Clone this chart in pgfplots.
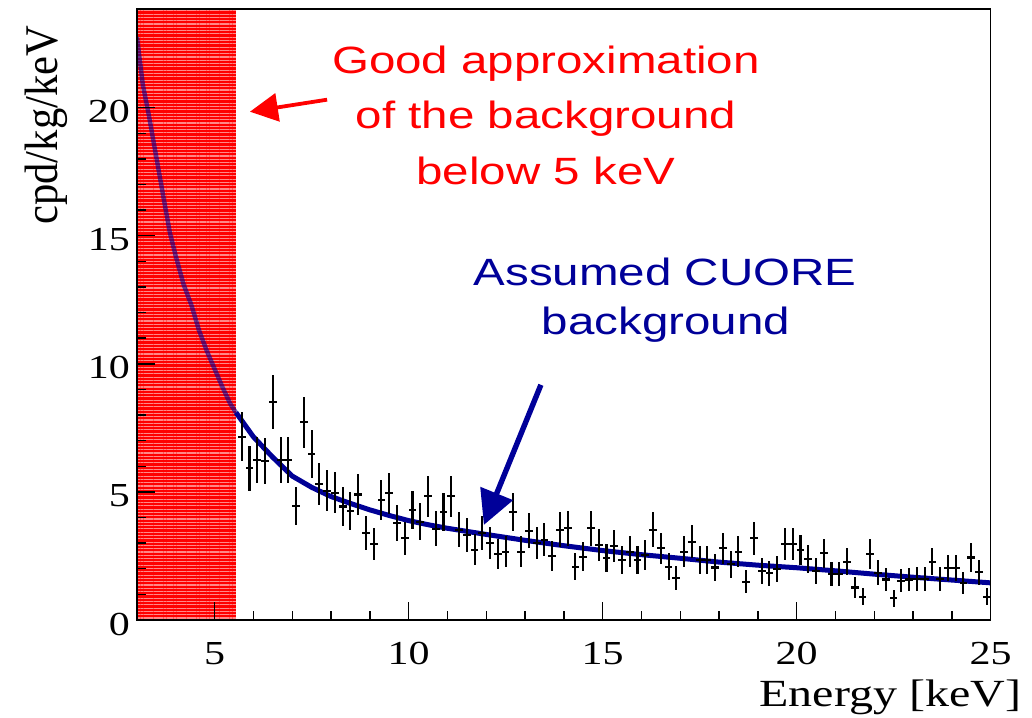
\documentclass[border=0pt]{standalone}
\usepackage{pgfplots}
\pgfplotsset{compat=1.18}
\usepackage{pgfplotstable}
\usepackage{fontspec}
\usetikzlibrary{arrows.meta,patterns.meta}
\setmainfont{Liberation Serif}[FakeStretch=1.25]
\newfontfamily\annfont{Liberation Sans}[FakeStretch=1.25]

\definecolor{fitblue}{RGB}{0,0,150}
\definecolor{annblue}{RGB}{0,0,153}
\definecolor{shadered}{RGB}{255,0,0}
\definecolor{stripered}{RGB}{255,135,135}

% measured spectrum: bin centre, rate, statistical error
\pgfplotstableread{
x     y     ey
5.7   7.15  0.96
5.9   5.93  0.88
6.1   6.25  0.90
6.3   6.22  0.90
6.5   8.50  1.05
6.7   6.25  0.90
6.9   6.25  0.90
7.1   4.45  0.76
7.3   7.72  1.00
7.5   6.48  0.92
7.7   5.30  0.83
7.9   5.05  0.81
8.1   4.97  0.80
8.3   4.43  0.76
8.5   4.26  0.74
8.7   4.90  0.80
8.9   3.41  0.66
9.1   2.97  0.62
9.3   4.69  0.78
9.5   4.94  0.80
9.7   3.78  0.70
9.9   3.19  0.64
10.1  4.30  0.75
10.3  3.84  0.71
10.5  4.83  0.79
10.7  3.56  0.68
10.9  4.23  0.74
11.1  4.83  0.79
11.3  3.52  0.68
11.5  3.32  0.66
11.7  2.75  0.60
11.9  3.40  0.66
12.1  3.01  0.62
12.3  2.58  0.58
12.5  2.67  0.59
12.7  4.22  0.74
12.9  2.67  0.59
13.1  3.49  0.67
13.3  3.00  0.62
13.5  3.13  0.64
13.7  2.50  0.57
13.9  3.52  0.68
14.1  3.58  0.68
14.3  2.08  0.52
14.5  2.47  0.57
14.7  3.58  0.68
14.9  2.93  0.62
15.1  2.42  0.56
15.3  2.89  0.61
15.5  2.34  0.55
15.7  2.67  0.59
15.9  2.34  0.55
16.1  2.54  0.57
16.3  3.52  0.68
16.5  2.80  0.60
16.7  2.08  0.52
16.9  1.63  0.46
17.1  2.67  0.59
17.3  3.06  0.63
17.5  2.34  0.55
17.7  2.34  0.55
17.9  2.05  0.52
18.1  2.80  0.60
18.3  2.18  0.53
18.5  2.67  0.59
18.7  1.50  0.44
18.9  3.19  0.64
19.1  1.92  0.50
19.3  1.82  0.49
19.5  1.98  0.51
19.7  2.96  0.62
19.9  2.96  0.62
20.1  2.73  0.59
20.3  2.38  0.56
20.5  1.92  0.50
20.7  2.60  0.58
20.9  1.79  0.48
21.1  1.79  0.48
21.3  2.28  0.54
21.5  1.27  0.41
21.7  0.91  0.34
21.9  2.57  0.58
22.1  1.85  0.49
22.3  1.58  0.45
22.5  0.85  0.33
22.7  1.53  0.45
22.9  1.58  0.45
23.1  1.60  0.46
23.3  1.60  0.46
23.5  2.28  0.54
23.7  1.60  0.46
23.9  2.02  0.51
24.1  2.02  0.51
24.3  1.43  0.43
24.5  2.44  0.56
24.7  1.87  0.49
24.9  0.91  0.34
}\spectrum

% background model, low-energy part (under the shaded band)
\pgfplotstableread{
x     y
3.0   22.75
3.15  20.9
3.3   19.75
3.5   18.05
3.7   16.35
3.85  15.1
4.0   14.2
4.2   13.1
4.4   12.3
4.6   11.3
4.8   10.5
5.0   9.8
5.2   9.1
5.4   8.45
5.55  8.1
}\modellow

% background model above the shaded band
\pgfplotstableread{
x     y
5.55  8.1
6.0   7.15
6.5   6.35
7.0   5.62
7.5   5.18
8.0   4.82
8.5   4.55
9.0   4.30
9.5   4.08
10.0  3.88
10.5  3.72
11    3.58
12    3.34
13    3.11
14    2.90
15    2.71
16    2.55
17    2.41
18    2.26
19    2.14
20    2.04
21    1.92
22    1.79
23    1.67
24    1.56
25    1.45
}\modelhigh

\begin{document}
\begin{tikzpicture}
\begin{axis}[
  scale only axis,
  width=426.8pt, height=305.5pt,
  xmin=3, xmax=25, ymin=0, ymax=23.85,
  axis on top,
  axis line style={line width=0.75pt, black},
  xtick={5,10,15,20,25}, ytick={0,5,10,15,20},
  minor x tick num=4, minor y tick num=4,
  tick pos=left, tick align=inside,
  major tick length=9pt, minor tick length=4.3pt,
  every tick/.style={black, line width=0.7pt},
  /pgf/number format/assume math mode=true,
  ticklabel style={font=\fontsize{16.8}{18}\selectfont},
  xticklabel style={yshift=-7.5pt},
  yticklabel style={xshift=0pt, yshift=-2pt},
  xlabel={Energy [keV]},
  xlabel style={font=\fontsize{19.2}{20}\selectfont,
    at={(axis description cs:1.044,-0.126)}, anchor=east},
  ylabel={\scalebox{1}[1.1]{cpd/kg/keV}},
  ylabel style={font=\fontsize{21.3}{22}\selectfont\addfontfeature{FakeStretch=1},
    at={(axis description cs:-0.106,0.984)}, anchor=east, rotate=0},
  clip=true,
]
% shaded low-energy band
\addplot[draw=none, fill=shadered, forget plot] coordinates {(3,0) (5.55,0) (5.55,23.85) (3,23.85)} -- cycle;
\addplot[draw=none, pattern={Lines[angle=0, distance=1.65pt, line width=0.55pt]},
  pattern color=stripered, forget plot] coordinates {(3,0) (5.55,0) (5.55,23.85) (3,23.85)} -- cycle;

% background model
\addplot[fitblue, line width=2.2pt, opacity=0.6, no markers] table[x=x,y=y] {\modellow};
\addplot[fitblue, line width=2.5pt, no markers] table[x=x,y=y] {\modelhigh};

% data with error bars
\addplot[draw=none, mark=none,
  error bars/.cd, x dir=both, x fixed=0.1, y dir=both, y explicit,
  error mark=none, error bar style={draw=black, solid, line width=1.05pt}]
  table[x=x, y=y, y error=ey] {\spectrum};

\coordinate (ll) at (rel axis cs:0,0);
\coordinate (ur) at (rel axis cs:1,1);

% annotations
\node[text=shadered, font=\annfont\fontsize{19}{20}\selectfont] at (axis cs:13.54,21.7) {Good approximation};
\node[text=shadered, font=\annfont\fontsize{19}{20}\selectfont] at (axis cs:13.54,19.57) {of the background};
\node[text=shadered, font=\annfont\fontsize{19}{20}\selectfont] at (axis cs:13.54,17.52) {below 5 keV};
\draw[shadered, line width=1.9pt, -{Triangle[length=14pt, width=14pt]}] (axis cs:7.90,20.31) -- (axis cs:5.91,19.84);

\node[text=annblue, font=\annfont\fontsize{19}{20}\selectfont] at (axis cs:16.61,13.59) {Assumed CUORE};
\node[text=annblue, font=\annfont\fontsize{19}{20}\selectfont] at (axis cs:16.63,11.52) {background};
\draw[annblue, line width=2.7pt, -{Triangle[length=17pt, width=17pt]}] (axis cs:13.41,9.18) -- (axis cs:11.94,3.71);
\end{axis}
\pgfresetboundingbox
\path ([shift={(-68.5pt,-48.5pt)}]ll) rectangle ([shift={(20.7pt,4.5pt)}]ur);
\end{tikzpicture}
\end{document}
